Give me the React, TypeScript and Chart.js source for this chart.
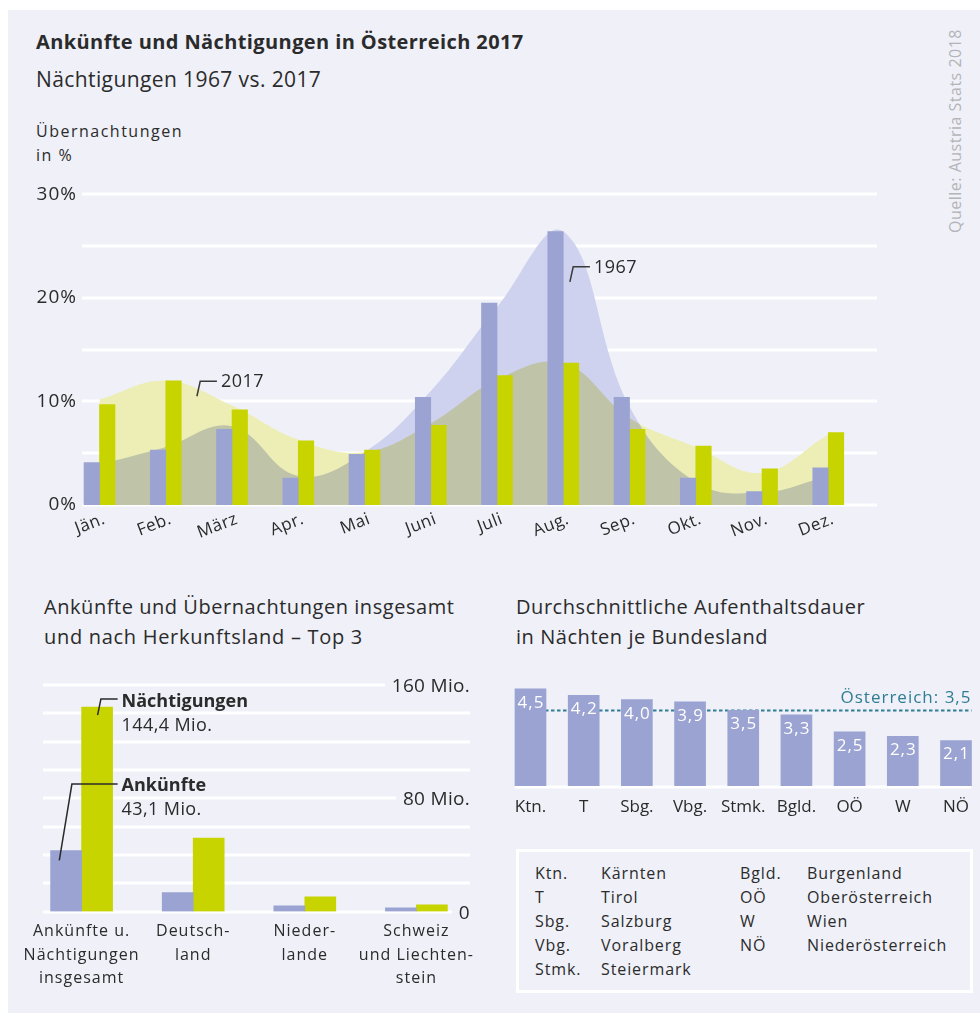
import React, { useEffect, useRef } from "react";
import { Chart, registerables } from "chart.js";

Chart.register(...registerables);

const FONT = '"Open Sans", "Noto Sans", sans-serif';
const BG = "#eff0f8";
const BLUE = "#9aa3d1";
const GREEN = "#c8d400";
const TEXT = "#2b2b2b";
const TEAL = "#2f7d93";

// ---- Chart 1: Nächtigungen 1967 vs. 2017 (Anteil je Monat in %) ----
const months = ["Jän.", "Feb.", "März", "Apr.", "Mai", "Juni", "Juli", "Aug.", "Sep.", "Okt.", "Nov.", "Dez."];
const nights1967 = [4.1, 5.3, 7.3, 2.6, 4.9, 10.4, 19.5, 26.4, 10.4, 2.6, 1.3, 3.6];
const nights2017 = [9.7, 12.0, 9.2, 6.2, 5.3, 7.7, 12.5, 13.7, 7.3, 5.7, 3.5, 7.0];
const curve1967 = [3.9, 5.6, 7.6, 2.8, 5.1, 11.0, 19.1, 26.4, 9.5, 2.2, 1.2, 2.8];
const curve2017 = [10.2, 12.0, 9.6, 6.3, 5.1, 7.9, 12.1, 13.7, 8.4, 5.6, 3.1, 6.8];
const pctTicks = [0, 10, 20, 30];
const pctGrid = [0, 5, 10, 15, 20, 25, 30];
const seriesNotes = [
  { label: "2017", index: 1.47, value: 10.5 },
  { label: "1967", index: 7.1, value: 21.55 },
];

// ---- Chart 2: Ankünfte und Übernachtungen nach Herkunftsland ----
const markets = [
  ["Ankünfte u.", "Nächtigungen", "insgesamt"],
  ["Deutsch-", "land"],
  ["Nieder-", "lande"],
  ["Schweiz", "und Liechten-", "stein"],
];
const arrivals = [43.1, 13.4, 4.0, 2.6];
const overnights = [144.4, 51.9, 10.3, 4.7];
const mioTicks = [0, 80, 160];
const mioGrid = [0, 20, 40, 60, 80, 100, 120, 140, 160];
const arrivalsNoteValue = 90;

// ---- Chart 3: Durchschnittliche Aufenthaltsdauer ----
const states = ["Ktn.", "T", "Sbg.", "Vbg.", "Stmk.", "Bgld.", "OÖ", "W", "NÖ"];
const stayNights = [4.5, 4.2, 4.0, 3.9, 3.5, 3.3, 2.5, 2.3, 2.1];
const austriaAvg = 3.5;

const legendLeft = [
  ["Ktn.", "Kärnten"],
  ["T", "Tirol"],
  ["Sbg.", "Salzburg"],
  ["Vbg.", "Voralberg"],
  ["Stmk.", "Steiermark"],
];
const legendRight = [
  ["Bgld.", "Burgenland"],
  ["OÖ", "Oberösterreich"],
  ["W", "Wien"],
  ["NÖ", "Niederösterreich"],
];

const de = (v: number) => String(v).replace(".", ",");
const de1 = (v: number) => v.toFixed(1).replace(".", ",");

// panel origin in page coordinates
const PX = 8;
const PY = 10;

function Txt(props: {
  x: number;
  cy: number;
  size: number;
  bold?: boolean;
  color?: string;
  ls?: number;
  children: React.ReactNode;
}) {
  const lh = Math.round(props.size * 1.3);
  return (
    <div
      style={{
        position: "absolute",
        left: props.x - PX,
        top: props.cy - PY - lh / 2,
        fontSize: props.size,
        lineHeight: lh + "px",
        fontWeight: props.bold ? 700 : 400,
        color: props.color || TEXT,
        letterSpacing: (props.ls || 0) + "px",
        whiteSpace: "nowrap",
      }}
    >
      {props.children}
    </div>
  );
}

function useChart(ref: React.RefObject<HTMLCanvasElement>, make: (c: HTMLCanvasElement) => Chart) {
  useEffect(() => {
    const chart = make(ref.current!);
    return () => chart.destroy();
  }, []);
}

const spacing = (px: number) => ({
  id: "spacing" + px,
  beforeDraw(chart: any) {
    (chart.ctx as any).letterSpacing = px + "px";
  },
  afterDraw(chart: any) {
    (chart.ctx as any).letterSpacing = "0px";
  },
});

function MonthsChart() {
  const ref = useRef<HTMLCanvasElement>(null);
  useChart(ref, (canvas) => {
    const deco = {
      id: "monthsDeco",
      beforeDatasetsDraw(chart: any) {
        const { ctx, chartArea, scales } = chart;
        ctx.save();
        ctx.strokeStyle = "#ffffff";
        ctx.lineWidth = 3;
        for (const v of pctGrid) {
          const y = Math.round(scales.y.getPixelForValue(v));
          ctx.beginPath();
          ctx.moveTo(chartArea.left + 15.6, y);
          ctx.lineTo(chartArea.right + 15.6, y);
          ctx.stroke();
        }
        // y tick labels (right-aligned, reaching into the plot margin)
        ctx.fillStyle = TEXT;
        ctx.font = `19px ${FONT}`;
        (ctx as any).letterSpacing = "1px";
        ctx.textAlign = "right";
        ctx.textBaseline = "middle";
        for (const v of pctTicks) {
          ctx.fillText(`${v}%`, chartArea.left + 10.6, scales.y.getPixelForValue(v));
        }
        ctx.restore();
        ctx.globalCompositeOperation = "multiply";
      },
      beforeDatasetDraw(chart: any, args: any) {
        chart.ctx.globalCompositeOperation = args.meta.type === "bar" ? "source-over" : "multiply";
      },
      afterDatasetsDraw(chart: any) {
        const { ctx, scales } = chart;
        ctx.globalCompositeOperation = "source-over";
        ctx.save();
        (ctx as any).letterSpacing = "0.5px";
        for (const n of seriesNotes) {
          const x = scales.x.getPixelForValue(n.index);
          const y = scales.y.getPixelForValue(n.value);
          ctx.strokeStyle = "#3a3a3a";
          ctx.lineWidth = 1.5;
          ctx.beginPath();
          ctx.moveTo(x, y);
          ctx.lineTo(x + 3.3, y - 15);
          ctx.lineTo(x + 20, y - 15);
          ctx.stroke();
          ctx.fillStyle = TEXT;
          ctx.font = `18px ${FONT}`;
          ctx.textBaseline = "middle";
          ctx.textAlign = "left";
          ctx.fillText(n.label, x + 24, y - 14);
        }
        ctx.restore();
      },
    };
    return new Chart(canvas, {
      type: "bar",
      data: {
        labels: months,
        datasets: [
          { type: "bar", label: "1967", data: nights1967, backgroundColor: BLUE, barThickness: 15.5, order: 0 } as any,
          { type: "bar", label: "2017", data: nights2017, backgroundColor: GREEN, barThickness: 15.5, order: 0 } as any,
          {
            type: "line",
            label: "Verlauf 2017",
            data: curve2017,
            fill: "origin",
            backgroundColor: "rgb(236,238,181)",
            borderWidth: 0,
            pointRadius: 0,
            tension: 0.4,
            order: 1,
          } as any,
          {
            type: "line",
            label: "Verlauf 1967",
            data: curve1967,
            fill: "origin",
            backgroundColor: "rgb(207,210,238)",
            borderWidth: 0,
            pointRadius: 0,
            tension: 0.4,
            order: 2,
          } as any,
        ],
      },
      options: {
        responsive: false,
        animation: false,
        devicePixelRatio: 1,
        layout: { padding: { left: 0, right: 46.6, top: 24.3, bottom: 0 } },
        plugins: { legend: { display: false }, tooltip: { enabled: false } },
        scales: {
          x: {
            grid: { display: false, drawTicks: false },
            border: { display: false },
            ticks: {
              font: { family: FONT, size: 17 },
              color: TEXT,
              minRotation: 21,
              maxRotation: 21,
              autoSkip: false,
              padding: 4,
              labelOffset: 5,
            },
            afterFit: (s: any) => {
              s.height = 45;
            },
          },
          y: {
            min: 0,
            max: 30,
            grid: { display: false, drawTicks: false },
            border: { display: false },
            ticks: { display: false, stepSize: 10 },
            afterFit: (s: any) => {
              s.width = 58.4;
            },
          },
        },
      } as any,
      plugins: [spacing(0.5), deco],
    });
  });
  return (
    <canvas
      ref={ref}
      width={900}
      height={380}
      style={{ position: "absolute", left: 8 - PX, top: 170 - PY, width: 900, height: 380 }}
    />
  );
}

function MarketsChart() {
  const ref = useRef<HTMLCanvasElement>(null);
  useChart(ref, (canvas) => {
    const deco = {
      id: "marketsDeco",
      beforeDatasetsDraw(chart: any) {
        const { ctx, chartArea, scales } = chart;
        ctx.save();
        ctx.font = `19px ${FONT}`;
        (ctx as any).letterSpacing = "0.3px";
        const right = chartArea.right - 2.2;
        const left = chartArea.left + 17.2;
        for (const v of mioGrid) {
          const y = Math.round(scales.y.getPixelForValue(v));
          let end = right;
          if (mioTicks.includes(v)) {
            const label = v === 0 ? "0" : `${v} Mio.`;
            const w = ctx.measureText(label).width;
            end = right - w - 7;
            ctx.fillStyle = TEXT;
            ctx.textAlign = "right";
            ctx.textBaseline = "middle";
            ctx.fillText(label, right, y + 2);
          }
          ctx.strokeStyle = "#ffffff";
          ctx.lineWidth = 3;
          ctx.beginPath();
          ctx.moveTo(left, y);
          ctx.lineTo(end, y);
          ctx.stroke();
        }
        ctx.restore();
      },
      afterDatasetsDraw(chart: any) {
        const { ctx, scales } = chart;
        const blue = chart.getDatasetMeta(0).data[0];
        const green = chart.getDatasetMeta(1).data[0];
        ctx.save();
        ctx.strokeStyle = "#2a2a2a";
        ctx.lineWidth = 1.5;
        // Nächtigungen leader
        ctx.beginPath();
        ctx.moveTo(green.x + 0.5, green.y + 8);
        ctx.lineTo(green.x + 3.8, green.y - 8);
        ctx.lineTo(green.x + 20.5, green.y - 8);
        ctx.stroke();
        // Ankünfte leader
        const ay = scales.y.getPixelForValue(arrivalsNoteValue);
        ctx.beginPath();
        ctx.moveTo(blue.x - 6.8, blue.y + 10);
        ctx.lineTo(blue.x + 5.8, ay);
        ctx.lineTo(green.x + 20.5, ay);
        ctx.stroke();
        ctx.fillStyle = TEXT;
        ctx.textAlign = "left";
        ctx.textBaseline = "middle";
        (ctx as any).letterSpacing = "0px";
        const tx = green.x + 24.5;
        ctx.font = `bold 18px ${FONT}`;
        ctx.fillText("Nächtigungen", tx, green.y - 5.3);
        ctx.fillText("Ankünfte", tx, ay + 1.7);
        ctx.font = `18px ${FONT}`;
        (ctx as any).letterSpacing = "0.4px";
        ctx.fillText(`${de1(overnights[0])} Mio.`, tx, green.y + 18.7);
        ctx.fillText(`${de1(arrivals[0])} Mio.`, tx, ay + 25.7);
        ctx.restore();
      },
    };
    return new Chart(canvas, {
      type: "bar",
      data: {
        labels: markets,
        datasets: [
          { label: "Ankünfte", data: arrivals, backgroundColor: BLUE, barThickness: 31 },
          { label: "Nächtigungen", data: overnights, backgroundColor: GREEN, barThickness: 31 },
        ],
      },
      options: {
        responsive: false,
        animation: false,
        devicePixelRatio: 1,
        layout: { padding: { left: 17.8, right: 7.8, top: 15, bottom: 0 } },
        plugins: { legend: { display: false }, tooltip: { enabled: false } },
        scales: {
          x: {
            grid: { display: false, drawTicks: false },
            border: { display: false },
            ticks: {
              font: { family: FONT, size: 16, lineHeight: 1.47 },
              color: TEXT,
              maxRotation: 0,
              autoSkip: false,
              padding: 8.5,
            },
            afterFit: (s: any) => {
              s.height = 88.5;
            },
          },
          y: { min: 0, max: 160, display: false },
        },
      } as any,
      plugins: [spacing(1), deco],
    });
  });
  return (
    <canvas
      ref={ref}
      width={472}
      height={330}
      style={{ position: "absolute", left: 8 - PX, top: 670 - PY, width: 472, height: 330 }}
    />
  );
}

function StayChart() {
  const ref = useRef<HTMLCanvasElement>(null);
  useChart(ref, (canvas) => {
    const deco = {
      id: "stayDeco",
      beforeDatasetsDraw(chart: any) {
        const { ctx, chartArea, scales } = chart;
        const l = chartArea.left - 15.5;
        const r = chartArea.right + 15.5;
        ctx.save();
        const y0 = Math.round(scales.y.getPixelForValue(0)) + 1;
        ctx.strokeStyle = "#ffffff";
        ctx.lineWidth = 3;
        ctx.beginPath();
        ctx.moveTo(l, y0);
        ctx.lineTo(r, y0);
        ctx.stroke();
        const ya = scales.y.getPixelForValue(austriaAvg);
        ctx.strokeStyle = TEAL;
        ctx.lineWidth = 2;
        ctx.setLineDash([3.5, 2.5]);
        ctx.beginPath();
        ctx.moveTo(l, ya);
        ctx.lineTo(r, ya);
        ctx.stroke();
        ctx.setLineDash([]);
        ctx.fillStyle = TEAL;
        ctx.font = `17px ${FONT}`;
        (ctx as any).letterSpacing = "1px";
        ctx.textAlign = "right";
        ctx.textBaseline = "middle";
        ctx.fillText(`Österreich: ${de(austriaAvg)}`, r, ya - 12.5);
        ctx.restore();
      },
      afterDatasetsDraw(chart: any) {
        const { ctx } = chart;
        const meta = chart.getDatasetMeta(0);
        ctx.save();
        ctx.fillStyle = "#ffffff";
        ctx.font = `17px ${FONT}`;
        (ctx as any).letterSpacing = "1px";
        ctx.textAlign = "center";
        ctx.textBaseline = "middle";
        meta.data.forEach((bar: any, i: number) => {
          ctx.fillText(de1(stayNights[i]), bar.x + 0.5, bar.y + 14);
        });
        ctx.restore();
      },
    };
    return new Chart(canvas, {
      type: "bar",
      data: {
        labels: states,
        datasets: [
          { label: "Nächte", data: stayNights, backgroundColor: BLUE, barThickness: 31, clip: false } as any,
        ],
      },
      options: {
        responsive: false,
        animation: false,
        devicePixelRatio: 1,
        layout: { padding: { left: 30.5, right: 22.3, top: 8.2, bottom: 0 } },
        plugins: { legend: { display: false }, tooltip: { enabled: false } },
        scales: {
          x: {
            offset: false,
            grid: { display: false, drawTicks: false, offset: false },
            border: { display: false },
            ticks: {
              font: { family: FONT, size: 17 },
              color: TEXT,
              maxRotation: 0,
              autoSkip: false,
              padding: 11,
            },
            afterFit: (s: any) => {
              s.height = 44.3;
            },
          },
          y: { min: 0, max: 5, display: false },
        },
      } as any,
      plugins: [deco],
    });
  });
  return (
    <canvas
      ref={ref}
      width={480}
      height={160}
      style={{ position: "absolute", left: 500 - PX, top: 670 - PY, width: 480, height: 160 }}
    />
  );
}

export default function App() {
  const rows = [873, 897, 921, 945, 969];
  return (
    <div
      style={{
        position: "absolute",
        left: PX,
        top: PY,
        width: 980 - PX,
        height: 1013 - PY,
        background: BG,
        fontFamily: FONT,
        color: TEXT,
        overflow: "hidden",
      }}
    >
      <Txt x={36} cy={42} size={20} bold ls={0.4}>
        Ankünfte und Nächtigungen in Österreich 2017
      </Txt>
      <Txt x={36} cy={79} size={21} ls={0.4}>
        Nächtigungen 1967 vs. 2017
      </Txt>
      <Txt x={36} cy={131} size={16} ls={1.5}>
        Übernachtungen
      </Txt>
      <Txt x={36} cy={155} size={16} ls={1.5}>
        in %
      </Txt>
      <div
        style={{
          position: "absolute",
          left: 955 - PX - 120,
          top: 131 - PY - 12,
          width: 240,
          height: 24,
          lineHeight: "24px",
          textAlign: "center",
          fontSize: 16,
          letterSpacing: "0.5px",
          color: "#b4b4b8",
          transform: "rotate(-90deg)",
          whiteSpace: "nowrap",
        }}
      >
        Quelle: Austria Stats 2018
      </div>

      <MonthsChart />

      <Txt x={44} cy={607} size={20} ls={0.55}>
        Ankünfte und Übernachtungen insgesamt
      </Txt>
      <Txt x={44} cy={637} size={20} ls={0.7}>
        und nach Herkunftsland – Top 3
      </Txt>
      <Txt x={516} cy={607} size={20} ls={0.55}>
        Durchschnittliche Aufenthaltsdauer
      </Txt>
      <Txt x={516} cy={637} size={20} ls={0.55}>
        in Nächten je Bundesland
      </Txt>

      <MarketsChart />
      <StayChart />

      <div
        style={{
          position: "absolute",
          left: 516 - PX,
          top: 849 - PY,
          width: 457,
          height: 144,
          border: "3px solid #ffffff",
          boxSizing: "border-box",
        }}
      />
      {legendLeft.map((r, i) => (
        <React.Fragment key={"l" + i}>
          <Txt x={535} cy={rows[i]} size={16} ls={0.9}>
            {r[0]}
          </Txt>
          <Txt x={601} cy={rows[i]} size={16} ls={0.9}>
            {r[1]}
          </Txt>
        </React.Fragment>
      ))}
      {legendRight.map((r, i) => (
        <React.Fragment key={"r" + i}>
          <Txt x={740} cy={rows[i]} size={16} ls={0.9}>
            {r[0]}
          </Txt>
          <Txt x={807} cy={rows[i]} size={16} ls={0.9}>
            {r[1]}
          </Txt>
        </React.Fragment>
      ))}
    </div>
  );
}
